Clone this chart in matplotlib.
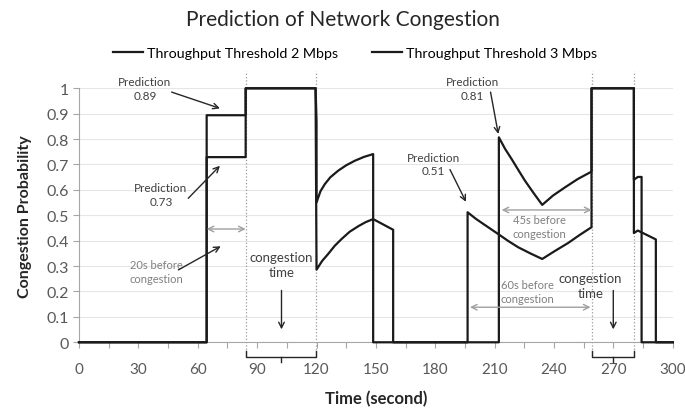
import matplotlib
matplotlib.use("Agg")
import matplotlib.pyplot as plt
import numpy as np

plt.rcParams["font.family"] = ["Lato", "DejaVu Sans"]

# congestion probability traces (time in seconds)
t_2mbps = [0, 64.5, 64.5, 84.2, 84.2, 119.5, 120.0, 122.8, 125.9, 129.2, 132.7,
           136.7, 141.1, 144.8, 148.6, 158.7, 158.7, 196.3, 196.3, 200.5, 205.0,
           211.8, 217.0, 221.9, 228.0, 234.0, 240.5, 247.1, 253.0, 258.9,
           258.9, 280.3, 280.3, 282.3, 291.4, 291.4, 300]
p_2mbps = [0, 0, 0.729, 0.729, 1, 1, 0.286, 0.32, 0.348, 0.38, 0.407,
           0.435, 0.457, 0.473, 0.485, 0.443, 0, 0, 0.512, 0.486, 0.462,
           0.426, 0.398, 0.374, 0.35, 0.328, 0.36, 0.391, 0.423, 0.453,
           1, 1, 0.43, 0.44, 0.405, 0, 0]

t_3mbps = [0, 64.5, 64.5, 84.2, 84.2, 119.5, 120.0, 120.0, 122.0, 124.2, 127.0,
           131.0, 135.0, 139.4, 144.0, 148.6, 148.6, 212.1, 212.1, 215.2, 218.5,
           221.8, 225.3, 229.6, 234.0, 239.5, 245.5, 252.0, 258.9, 258.9,
           280.3, 280.3, 282.3, 284.2, 284.2, 300]
p_3mbps = [0, 0, 0.894, 0.894, 1, 1, 0.87, 0.551, 0.595, 0.623, 0.65,
           0.676, 0.697, 0.715, 0.73, 0.741, 0, 0, 0.807, 0.762, 0.722,
           0.68, 0.636, 0.588, 0.541, 0.578, 0.61, 0.643, 0.672, 1,
           1, 0.64, 0.651, 0.651, 0, 0]

x_ticks = list(range(0, 301, 30))
y_ticks = [round(v * 0.1, 1) for v in range(11)]
y_ticklabels = ["0", "0.1", "0.2", "0.3", "0.4", "0.5", "0.6", "0.7", "0.8", "0.9", "1"]

# congestion windows (start, end)
congestion_windows = [(84.2, 119.5), (259.2, 280.3)]

GRAY_TXT = "#595959"

fig = plt.figure(figsize=(6.85, 4.14), dpi=100)
ax = fig.add_axes([0.1153, 0.1708, 0.867, 0.6135])

ax.plot(t_2mbps, p_2mbps, color="#1a1a1a", linewidth=1.6, clip_on=False,
        label="Throughput Threshold 2 Mbps", zorder=3)
ax.plot(t_3mbps, p_3mbps, color="#1a1a1a", linewidth=1.6, clip_on=False,
        label="Throughput Threshold 3 Mbps", zorder=3)

ax.set_xlim(0, 300)
ax.set_ylim(0, 1)
ax.set_xticks(x_ticks)
ax.set_xticks(np.arange(15, 300, 30), minor=True)
ax.set_yticks(y_ticks)
ax.set_yticklabels(y_ticklabels)
ax.tick_params(axis="both", which="both", colors="#a6a6a6", labelcolor=GRAY_TXT,
               labelsize=11.5, length=4, width=0.8, direction="out")
ax.tick_params(axis="x", pad=10, labelsize=11)
ax.grid(axis="y", color="#e6e6e6", linewidth=0.8)
ax.set_axisbelow(True)
for side in ("top", "right"):
    ax.spines[side].set_visible(False)
for side in ("left", "bottom"):
    ax.spines[side].set_color("#a6a6a6")
    ax.spines[side].set_linewidth(0.8)

ax.set_xlabel("Time (second)", fontsize=12, fontweight="bold", color="#262626", labelpad=10)
ax.set_ylabel("Congestion Probability", fontsize=11.5, fontweight="bold", color="#262626", labelpad=10)
fig.suptitle("Prediction of Network Congestion", fontsize=15, color="#262626", y=0.975)

ax.legend(loc="lower center", bbox_to_anchor=(0.465, 1.065), ncol=2, frameon=False,
          fontsize=10.3, handlelength=2.1, columnspacing=2.4, handletextpad=0.25)

# congestion windows: dotted boundaries, brackets and arrows
for start, end in congestion_windows:
    mid = (start + end) / 2
    for edge in (start, end):
        ax.plot([edge, edge], [-0.055, 1.07], color="#9a9a9a", linestyle=":",
                linewidth=0.9, clip_on=False, zorder=1)
    ax.plot([start, start, end, end], [-0.035, -0.058, -0.058, -0.035],
            color="#262626", linewidth=1.0, clip_on=False)
    ax.plot([mid, mid], [-0.058, -0.078], color="#262626", linewidth=1.0, clip_on=False)

ax.text(102.3, 0.305, "congestion\ntime", ha="center", va="center", fontsize=9.5,
        color="#404040", linespacing=1.3)
ax.annotate("", xy=(102.3, 0.04), xytext=(102.3, 0.215),
            arrowprops=dict(arrowstyle="->", color="#262626", lw=1.0))
ax.text(258.3, 0.222, "congestion\ntime", ha="center", va="center", fontsize=9.5,
        color="#404040", linespacing=1.3)
ax.annotate("", xy=(269.9, 0.04), xytext=(269.9, 0.215),
            arrowprops=dict(arrowstyle="->", color="#262626", lw=1.0))

# prediction callouts
callouts = [
    ("Prediction\n0.89", (33.3, 1.0), (71.2, 0.921), (46.8, 0.985)),
    ("Prediction\n0.73", (41.4, 0.583), (71.2, 0.695), (55.2, 0.567)),
    ("Prediction\n0.81", (198.8, 1.0), (211.8, 0.82), (207.9, 0.985)),
    ("Prediction\n0.51", (178.9, 0.702), (195.5, 0.553), (187.4, 0.68)),
]
for label, text_xy, tip, tail in callouts:
    ax.text(*text_xy, label, ha="center", va="center", fontsize=8.5, color="#404040",
            linespacing=1.3)
    ax.annotate("", xy=tip, xytext=tail,
                arrowprops=dict(arrowstyle="->", color="#262626", lw=1.0,
                                shrinkA=0, shrinkB=0))

# lead-time spans
lead_spans = [
    ("20s before\ncongestion", (38.9, 0.278), (64.5, 84.2, 0.446)),
    ("45s before\ncongestion", (232.7, 0.457), (213.5, 258.9, 0.521)),
    ("60s before\ncongestion", (226.4, 0.199), (197.5, 258.4, 0.138)),
]
for label, text_xy, (x0, x1, yy) in lead_spans:
    ax.text(*text_xy, label, ha="center", va="center", fontsize=8, color="#7f7f7f",
            linespacing=1.3)
    ax.annotate("", xy=(x1, yy), xytext=(x0, yy),
                arrowprops=dict(arrowstyle="<->", color="#a0a0a0", lw=1.0,
                                shrinkA=0, shrinkB=0))
ax.annotate("", xy=(71.6, 0.378), xytext=(50.2, 0.285),
            arrowprops=dict(arrowstyle="->", color="#262626", lw=1.0, shrinkA=0, shrinkB=0))

fig.savefig("out.png", dpi=100)
